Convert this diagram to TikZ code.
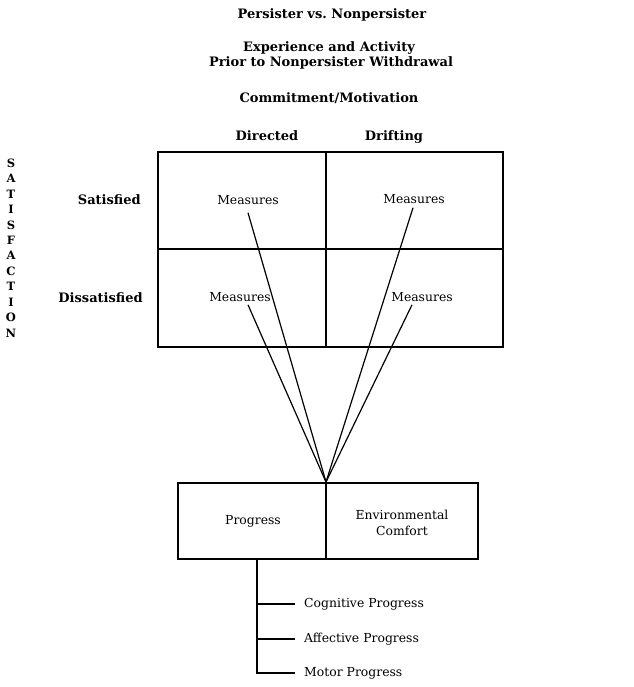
\documentclass[tikz,border=0pt]{standalone}
\usepackage{fontspec}
\setmainfont{DejaVu Serif}
\begin{document}
\begin{tikzpicture}[x=1pt,y=-1pt,
  head/.style={font=\bfseries\fontsize{13}{15}\selectfont, inner sep=0pt, anchor=base},
  body/.style={font=\fontsize{12.4}{15.5}\selectfont, inner sep=0pt, align=center},
  cell/.style={draw, line width=1.7pt},
  link/.style={line width=1.2pt},
  twig/.style={line width=1.2pt}]
\useasboundingbox (0,0) rectangle (633,687);

% titles
\node[head] (t1) at (332,19) {Persister vs.\ Nonpersister};
\node[head] (t2a) at (329,52) {Experience and Activity};
\node[head] (t2b) at (331,67) {Prior to Nonpersister Withdrawal};
\node[head] (t3) at (329,103) {Commitment/Motivation};
\node[head] (dir) at (267,141) {Directed};
\node[head] (dri) at (394,141) {Drifting};

% row labels and vertical axis label
\node[head, anchor=base east] (sat) at (141,204) {Satisfied};
\node[head, anchor=base east] (dis) at (143,302) {Dissatisfied};
\node[head, align=center, anchor=center, font=\bfseries\fontsize{11.5}{15.45}\selectfont] (axis) at (11,248)
  {S\\A\\T\\I\\S\\F\\A\\C\\T\\I\\O\\N};

% the 2x2 grid
\draw[cell] (158,152) rectangle (503,347);
\draw[cell] (326,152) -- (326,347);
\draw[cell] (158,249) -- (503,249);

\node[body] (m1) at (248,200) {Measures};
\node[body] (m2) at (414,199) {Measures};
\node[body] (m3) at (240,297) {Measures};
\node[body] (m4) at (422,297) {Measures};

% outcome boxes
\draw[cell] (178,483) rectangle (478,559);
\draw[cell] (326,483) -- (326,559);
\coordinate (conv) at (326,482);
\node[body] (prog) at (253,521) {Progress};
\node[body] (env) at (402,523) {Environmental\\Comfort};

% converging connectors
\draw[link] ([yshift=-8pt]m1.south) -- (conv);
\draw[link] ([xshift=8pt,yshift=-3pt]m3.south) -- (conv);
\draw[link] ([xshift=-1pt,yshift=-4pt]m2.south) -- (conv);
\draw[link] ([xshift=-10pt,yshift=-3pt]m4.south) -- (conv);

% progress components
\coordinate (stem) at (257,559);
\node[body, anchor=west, inner xsep=9pt] (cog) at (295,604) {Cognitive Progress};
\node[body, anchor=west, inner xsep=9pt] (aff) at (295,639) {Affective Progress};
\node[body, anchor=west, inner xsep=9pt] (mot) at (295,673) {Motor Progress};
\draw[twig] (stem) |- (cog.west);
\draw[twig] (stem) |- (aff.west);
\draw[twig] (stem) |- (mot.west);
\end{tikzpicture}
\end{document}
